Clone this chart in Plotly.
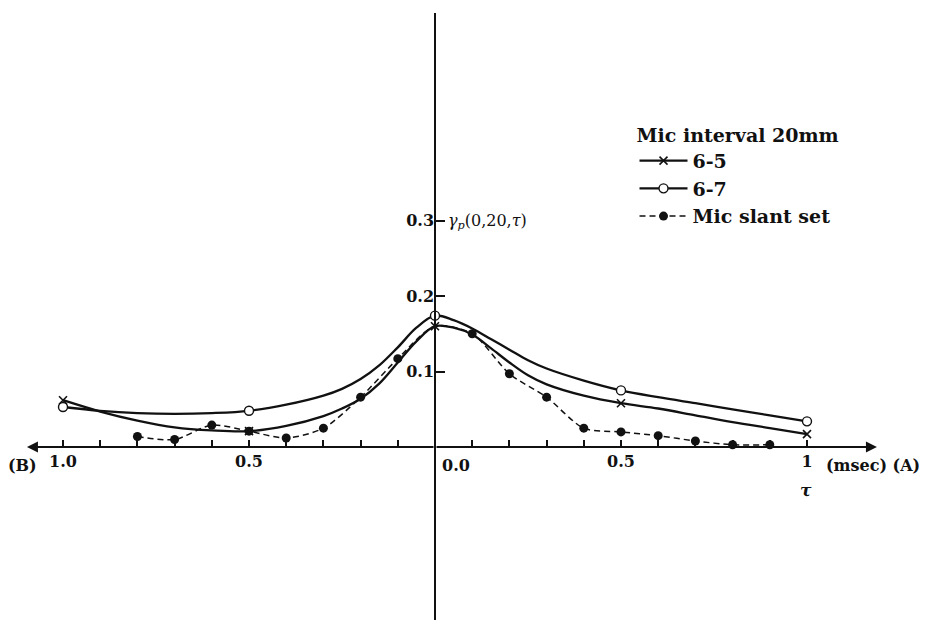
import plotly.graph_objects as go

# Time lag tau in msec: negative values run toward (B), positive toward (A)
tau_curve = [-1.0, -0.9, -0.8, -0.7, -0.6, -0.5, -0.4,
             -0.3, -0.25, -0.2, -0.15, -0.1, -0.05, 0.0, 0.05, 0.1, 0.15, 0.2, 0.25, 0.3,
             0.4, 0.5, 0.6, 0.7, 0.8, 0.9, 1.0]

# Fitted correlation curves for the two microphone pairs
r_6_7 = [0.053, 0.048, 0.045, 0.044, 0.045, 0.048, 0.056,
         0.068, 0.077, 0.090, 0.108, 0.132, 0.158, 0.174, 0.168, 0.157, 0.143, 0.129, 0.115, 0.104,
         0.088, 0.075, 0.066, 0.058, 0.050, 0.042, 0.034]
r_6_5 = [0.062, 0.047, 0.035, 0.026, 0.022, 0.021, 0.028,
         0.041, 0.051, 0.064, 0.084, 0.112, 0.140, 0.160, 0.158, 0.149, 0.131, 0.112, 0.095, 0.083,
         0.068, 0.058, 0.051, 0.042, 0.033, 0.025, 0.017]

# Lags at which the pair correlations were measured
tau_measured = [-1.0, -0.5, 0.0, 0.5, 1.0]

# Slanted microphone set
slant_tau = [-0.8, -0.7, -0.6, -0.5, -0.4, -0.3, -0.2, -0.1, 0.0,
             0.1, 0.2, 0.3, 0.4, 0.5, 0.6, 0.7, 0.8, 0.9]
slant_val = [0.014, 0.010, 0.029, 0.021, 0.012, 0.025, 0.066, 0.117, 0.160,
             0.150, 0.097, 0.066, 0.025, 0.020, 0.015, 0.008, 0.003, 0.003]
slant_unmarked = [0.0]

# Axis ticks
x_tick_vals = [-1.0, -0.5, 0.5, 1.0]
x_tick_text = ["1.0", "0.5", "0.5", "1"]
x_minor_vals = [-0.9, -0.8, -0.7, -0.6, -0.4, -0.3, -0.2, -0.1,
                0.1, 0.2, 0.3, 0.4, 0.6, 0.7, 0.8, 0.9]
y_tick_vals = [0.1, 0.2, 0.3]
y_tick_text = ["0.1", "0.2", "0.3"]

# Ends of the two-way tau axis
tau_axis_ends = [-1.097, 1.188]

X_RANGE = [-1.1694, 1.328]
Y_RANGE = [-0.2331, 0.5921]

INK = "#111111"
CLEAR = "rgba(0,0,0,0)"
FONT = "DejaVu Serif"


def shown(xs, keep):
    return [any(abs(x - k) < 1e-9 for k in keep) for x in xs]


fig = go.Figure()

on65 = shown(tau_curve, tau_measured)
fig.add_trace(go.Scatter(
    x=tau_curve, y=r_6_5, mode="lines+markers", name="<b>6-5</b>",
    line=dict(color=INK, width=2.3, shape="spline", smoothing=1.0),
    marker=dict(symbol="x-thin", size=8,
                color=[INK if s else CLEAR for s in on65],
                line=dict(width=1.6, color=[INK if s else CLEAR for s in on65])),
    hoverinfo="skip",
))

on67 = shown(tau_curve, tau_measured)
fig.add_trace(go.Scatter(
    x=tau_curve, y=r_6_7, mode="lines+markers", name="<b>6-7</b>",
    line=dict(color=INK, width=2.3, shape="spline", smoothing=1.0),
    marker=dict(symbol="circle", size=9,
                color=["white" if s else CLEAR for s in on67],
                line=dict(width=1.4, color=[INK if s else CLEAR for s in on67])),
    hoverinfo="skip",
))

on_sl = [not s for s in shown(slant_tau, slant_unmarked)]
fig.add_trace(go.Scatter(
    x=slant_tau, y=slant_val, mode="lines+markers", name="<b>Mic slant set</b>",
    line=dict(color=INK, width=1.5, dash="6px,4px", shape="spline", smoothing=0.8),
    marker=dict(symbol="circle", size=9,
                color=[INK if s else CLEAR for s in on_sl],
                line=dict(width=0)),
    hoverinfo="skip",
))

# Vertical correlation axis
fig.add_shape(type="line", x0=0, x1=0, y0=-0.229, y1=0.575,
              line=dict(color=INK, width=2))
# Horizontal tau axis, arrowed toward (B) and toward (A)
for end in tau_axis_ends:
    fig.add_annotation(x=end, y=0, ax=0, ay=0, axref="x", ayref="y",
                       xref="x", yref="y", text="", showarrow=True,
                       arrowhead=2, arrowsize=1.1, arrowwidth=2, arrowcolor=INK,
                       standoff=0, startstandoff=0)

txt = dict(family=FONT, size=16, color=INK)
fig.add_annotation(x=0, y=0, text="<b>0.0</b>", showarrow=False, xshift=21, yshift=-18,
                   font=txt)
fig.add_annotation(x=-1.108, y=0, text="<b>(B)</b>", showarrow=False, yshift=-18, font=txt)
fig.add_annotation(x=1.046, y=0, text="<b>(msec) (A)</b>", showarrow=False, xanchor="left",
                   yshift=-18, font=txt)
fig.add_annotation(x=0.997, y=-0.057, text="<b><i>τ</i></b>", showarrow=False,
                   font=dict(family=FONT, size=17, color=INK))
fig.add_annotation(x=0.030, y=0.299, text="<i>γ</i><sub><i>p</i></sub>(0,20,<i>τ</i>)",
                   showarrow=False, xanchor="left",
                   font=dict(family=FONT, size=16, color=INK))

tickfont = dict(family=FONT, size=16, color=INK, weight="bold")

fig.update_layout(
    width=929, height=623,
    margin=dict(l=0, r=0, t=0, b=0),
    paper_bgcolor="white", plot_bgcolor="white",
    font=dict(family=FONT, color=INK),
    xaxis=dict(range=X_RANGE, showgrid=False, zeroline=False, showline=False,
               anchor="free", position=0.2825,
               tickvals=x_tick_vals, ticktext=x_tick_text,
               ticks="inside", ticklen=7, tickwidth=1.5, tickcolor=INK,
               tickfont=tickfont, ticklabelstandoff=3,
               minor=dict(tickvals=x_minor_vals, ticks="inside", ticklen=7,
                          tickwidth=1.5, tickcolor=INK, showgrid=False)),
    yaxis=dict(range=Y_RANGE, showgrid=False, zeroline=False, showline=False,
               anchor="free", position=0.4683, side="left",
               tickvals=y_tick_vals, ticktext=y_tick_text,
               ticks="inside", ticklen=9, tickwidth=1.5, tickcolor=INK,
               tickfont=tickfont, ticklabelstandoff=1),
    showlegend=True,
    legend=dict(x=0.683, y=0.812, xanchor="left", yanchor="top",
                bgcolor=CLEAR, borderwidth=0,
                traceorder="normal", itemwidth=48,
                font=dict(family=FONT, size=19, color=INK),
                title=dict(text="<b>Mic interval 20mm</b>",
                           font=dict(family=FONT, size=19, color=INK))),
)

fig.write_html("out.html")
